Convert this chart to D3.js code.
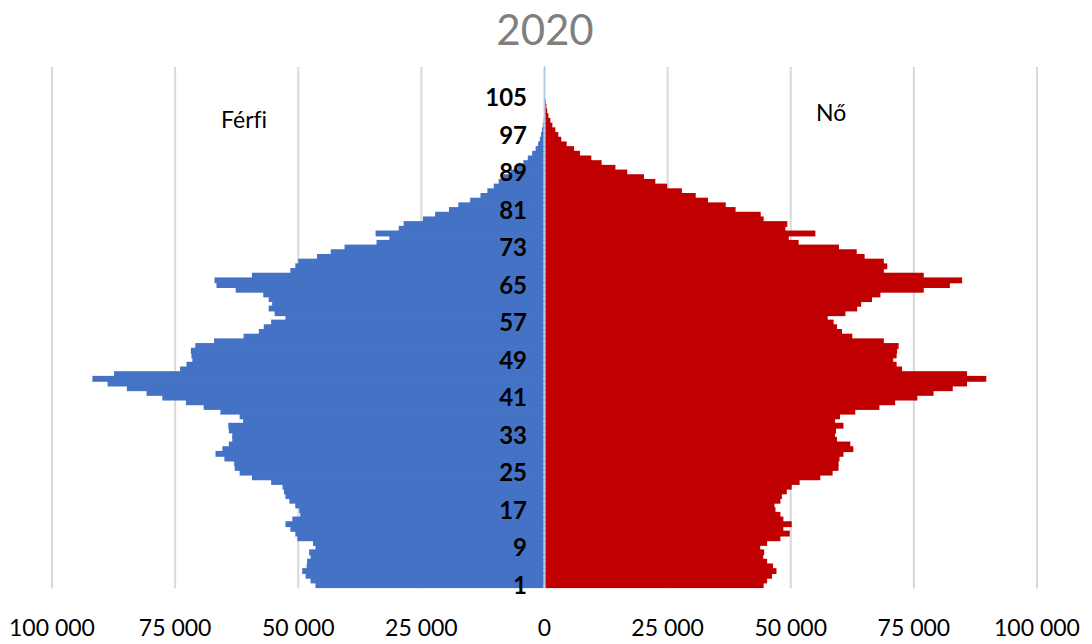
<!DOCTYPE html>
<html><head><meta charset="utf-8">
<script src="https://cdn.jsdelivr.net/npm/d3@7"></script>
<style>body{margin:0;background:#fff}svg{display:block}text{font-variant-ligatures:none}</style>
</head><body>
<svg id="chart" width="1092" height="644"></svg>
<script>
// Age categories (axis labels 1..111)
const ages = [1,2,3,4,5,6,7,8,9,10,11,12,13,14,15,16,17,18,19,20,
  21,22,23,24,25,26,27,28,29,30,31,32,33,34,35,36,37,38,39,40,
  41,42,43,44,45,46,47,48,49,50,51,52,53,54,55,56,57,58,59,60,
  61,62,63,64,65,66,67,68,69,70,71,72,73,74,75,76,77,78,79,80,
  81,82,83,84,85,86,87,88,89,90,91,92,93,94,95,96,97,98,99,100,
  101,102,103,104,105,106,107,108,109,110,111];
const ageTickLabels = [1,9,17,25,33,41,49,57,65,73,81,89,97,105];

// Férfi (male) population by age
const male = [46500,47500,48500,49200,48300,48200,47500,47800,46500,47000,
  50200,50600,51600,52600,51200,49600,49800,50600,51800,52600,
  52900,53200,55500,59400,61900,62900,63000,65000,66800,65400,
  64100,63400,63400,64100,64200,61200,61900,65800,69200,72800,
  77600,80800,84800,88700,91800,87400,74000,72700,71500,71700,
  71800,70900,67100,61100,58000,57000,55500,52600,54800,56000,
  55300,56000,57100,62700,66600,67000,59400,51600,50600,50000,
  46200,43400,40600,34100,31500,34300,29600,28600,24700,22200,
  19400,17500,15100,13000,11600,10300,9300,8300,6900,5500,
  4300,3400,2500,1800,1300,950,700,500,350,250,
  170,120,80,60,40,30,20,15,10,10,10];

// Nő (female) population by age
const female = [44500,45200,46200,47100,46400,45200,44400,44600,43800,45200,
  47900,49800,48500,50200,48500,47900,46900,46700,47900,48200,
  49200,50200,51800,56000,58500,59700,59700,59900,60700,62700,
  62100,59400,59000,59200,60700,59000,60000,63100,68000,71200,
  75700,79000,82900,85800,89700,85800,72600,71500,70800,71500,
  71600,71900,68900,62500,60400,59400,58700,57500,61100,63500,
  64300,66500,68200,77000,82300,84800,77000,68900,69600,68900,
  65000,63400,59800,51600,49600,55000,48900,49300,44500,43900,
  38800,36800,33200,30700,27900,24900,22500,20200,16800,14400,
  11600,9500,7200,6000,4500,3400,2800,2200,1600,1200,
  800,550,400,300,200,150,100,70,50,30,20];

const xTicks = [-100000,-75000,-50000,-25000,0,25000,50000,75000,100000];
const title = "2020";
const maleLabel = "Férfi";
const femaleLabel = "Nő";

const svg = d3.select("#chart");
const plot = {left: 52, right: 1037, top: 67, bottom: 587.5};

const x = d3.scaleLinear().domain([-100000, 100000]).range([plot.left, plot.right]);
const y = d3.scaleBand().domain(ages).range([plot.bottom, plot.top]).padding(0);

const fmt = d3.formatLocale({decimal: ",", thousands: "\u00a0", grouping: [3], currency: ["", ""]}).format(",d");

// gridlines
svg.append("g").selectAll("line").data(xTicks).join("line")
  .attr("x1", d => x(d)).attr("x2", d => x(d))
  .attr("y1", plot.top).attr("y2", plot.bottom + 1)
  .attr("stroke", "#d9d9d9").attr("stroke-width", 2);

const x0 = x(0);
const bw = y.bandwidth();

// male bars
svg.append("g").selectAll("rect").data(ages).join("rect")
  .attr("x", (d, i) => x(-male[i]))
  .attr("width", (d, i) => Math.max(0, x0 - 1 - x(-male[i])))
  .attr("y", d => y(d) - 0.6)
  .attr("height", bw + 1.2)
  .attr("fill", "#4472c4");

// female bars
svg.append("g").selectAll("rect").data(ages).join("rect")
  .attr("x", x0 + 1)
  .attr("width", (d, i) => Math.max(0, x(female[i]) - x0 - 1))
  .attr("y", d => y(d) - 0.6)
  .attr("height", bw + 1.2)
  .attr("fill", "#c00000");

// center axis line
svg.append("line")
  .attr("x1", x0).attr("x2", x0)
  .attr("y1", plot.top - 1).attr("y2", plot.bottom)
  .attr("stroke", "#b4c7e7").attr("stroke-width", 1.2);

// age labels
svg.append("g").selectAll("text").data(ageTickLabels).join("text")
  .attr("x", 527)
  .attr("y", d => y(d) + bw / 2)
  .attr("dy", "0.36em")
  .attr("text-anchor", "end")
  .attr("font-family", "Lato, 'Open Sans', sans-serif")
  .attr("font-weight", "bold")
  .attr("font-size", 24)
  .attr("fill", "#000")
  .text(d => d);

// x tick labels
svg.append("g").selectAll("text").data(xTicks).join("text")
  .attr("x", d => x(d))
  .attr("y", 636)
  .attr("text-anchor", "middle")
  .attr("font-family", "Lato, 'Open Sans', sans-serif")
  .attr("font-size", 23)
  .attr("fill", "#000")
  .text(d => fmt(Math.abs(d)));

// title
svg.append("text")
  .attr("x", 545).attr("y", 45)
  .attr("text-anchor", "middle")
  .attr("font-family", "Lato, 'Open Sans', sans-serif")
  .attr("font-size", 42)
  .attr("fill", "#7f7f7f")
  .text(title);

// series labels
svg.append("text")
  .attr("x", 221).attr("y", 128)
  .attr("font-family", "Lato, 'Open Sans', sans-serif")
  .attr("font-size", 23).attr("fill", "#000")
  .text(maleLabel);
svg.append("text")
  .attr("x", 816).attr("y", 121)
  .attr("font-family", "Lato, 'Open Sans', sans-serif")
  .attr("font-size", 23).attr("fill", "#000")
  .text(femaleLabel);
</script>
</body></html>
